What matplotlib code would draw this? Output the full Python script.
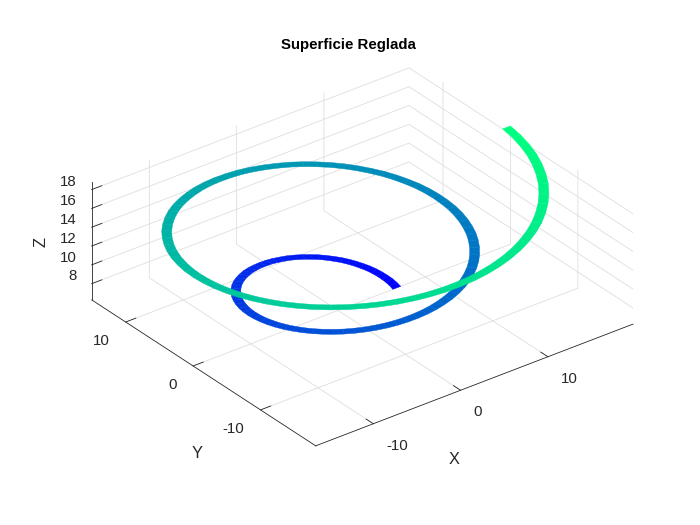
import numpy as np
import matplotlib
matplotlib.use('Agg')
import matplotlib.pyplot as plt
from mpl_toolkits.mplot3d import proj3d

# Ribbon in cylindrical form, one sample every 5 degrees
angle_deg = [360, 365, 370, 375, 380, 385, 390, 395, 400, 405, 410, 415, 420, 425, 430, 435, 440, 445,
             450, 455, 460, 465, 470, 475, 480, 485, 490, 495, 500, 505, 510, 515, 520, 525, 530, 535,
             540, 545, 550, 555, 560, 565, 570, 575, 580, 585, 590, 595, 600, 605, 610, 615, 620, 625,
             630, 635, 640, 645, 650, 655, 660, 665, 670, 675, 680, 685, 690, 695, 700, 705, 710, 715,
             720, 725, 730, 735, 740, 745, 750, 755, 760, 765, 770, 775, 780, 785, 790, 795, 800, 805,
             810, 815, 820, 825, 830, 835, 840, 845, 850, 855, 860, 865, 870, 875, 880, 885, 890, 895,
             900, 905, 910, 915, 920, 925, 930, 935, 940, 945, 950, 955, 960, 965, 970, 975, 980, 985,
             990, 995, 1000, 1005, 1010, 1015, 1020, 1025, 1030, 1035, 1040, 1045, 1050, 1055, 1060, 1065,
             1070, 1075, 1080]
radius = [6.28, 6.37, 6.46, 6.54, 6.63, 6.72, 6.81, 6.89, 6.98, 7.07, 7.16, 7.24, 7.33, 7.42, 7.50, 7.59, 7.68, 7.77,
          7.85, 7.94, 8.03, 8.11, 8.20, 8.29, 8.38, 8.46, 8.55, 8.64, 8.73, 8.81, 8.90, 8.99, 9.08, 9.16, 9.25, 9.34,
          9.42, 9.51, 9.60, 9.69, 9.77, 9.86, 9.95, 10.03, 10.12, 10.21, 10.30, 10.38, 10.47, 10.56, 10.65, 10.73, 10.82, 10.91,
          11.00, 11.08, 11.17, 11.26, 11.34, 11.43, 11.52, 11.61, 11.69, 11.78, 11.87, 11.95, 12.04, 12.13, 12.22, 12.30, 12.39, 12.48,
          12.57, 12.65, 12.74, 12.83, 12.92, 13.00, 13.09, 13.18, 13.26, 13.35, 13.44, 13.53, 13.61, 13.70, 13.79, 13.87, 13.96, 14.05,
          14.14, 14.22, 14.31, 14.40, 14.49, 14.57, 14.66, 14.75, 14.84, 14.92, 15.01, 15.10, 15.18, 15.27, 15.36, 15.45, 15.53, 15.62,
          15.71, 15.79, 15.88, 15.97, 16.06, 16.14, 16.23, 16.32, 16.41, 16.49, 16.58, 16.67, 16.76, 16.84, 16.93, 17.02, 17.10, 17.19,
          17.28, 17.37, 17.45, 17.54, 17.63, 17.71, 17.80, 17.89, 17.98, 18.06, 18.15, 18.24, 18.33, 18.41, 18.50, 18.59, 18.67, 18.76,
          18.85]
height = list(radius)
ribbon_width = 0.9

x_ticks = [-10, 0, 10]
y_ticks = [-10, 0, 10]
z_ticks = [8, 10, 12, 14, 16, 18]
x_tick_labels = ['-10', '0', '10']
y_tick_labels = ['-10', '0', '10']
z_tick_labels = ['8', '10', '12', '14', '16', '18']

plt.rcParams['font.family'] = ['Liberation Sans', 'DejaVu Sans']
plt.rcParams['grid.color'] = '#dedede'
plt.rcParams['grid.linewidth'] = 0.6
plt.rcParams['axes.edgecolor'] = '#262626'
plt.rcParams['axes.linewidth'] = 0.6
plt.rcParams['xtick.major.width'] = 0.6
plt.rcParams['ytick.major.width'] = 0.6
plt.rcParams['xtick.color'] = '#262626'
plt.rcParams['ytick.color'] = '#262626'

W, H = 700, 525
x_lim = (-16.6, 19.75)
y_lim = (-18.18, 15.04)
z_lim = (6.28, 18.85)

fig = plt.figure(figsize=(7, 5.25), dpi=100)
ax = fig.add_axes([83 / W, -7.2 / H, 544 / W, 544 / H], projection='3d', proj_type='ortho')
ax.view_init(elev=30, azim=-127.5)
ax.set_box_aspect((400, 368, 136.6))
ax.patch.set_alpha(0)

# Surface between the inner and the outer edge of the ribbon
theta = np.radians(angle_deg)
r = np.array(radius)
z = np.array(height)
X = np.vstack([r * np.cos(theta), (r + ribbon_width) * np.cos(theta)])
Y = np.vstack([r * np.sin(theta), (r + ribbon_width) * np.sin(theta)])
Z = np.vstack([z, z])
surf = ax.plot_surface(X, Y, Z, cmap='winter', vmin=6.28, vmax=18.85, rstride=1, cstride=1,
                       shade=False, linewidth=0.3, antialiased=True)
surf.set_edgecolor('face')

ax.set_xlim(*x_lim)
ax.set_ylim(*y_lim)
ax.set_zlim(*z_lim)
ax.set_xticks(x_ticks, labels=x_tick_labels, ha='left')
ax.set_yticks(y_ticks, labels=y_tick_labels, ha='right')
ax.set_zticks(z_ticks)
ax.tick_params(axis='x', labelsize=10.8, labelcolor='#262626', pad=3.5)
ax.tick_params(axis='y', labelsize=10.8, labelcolor='#262626', pad=2.5)
ax.zaxis.set_tick_params(label1On=False, label2On=False)

# mplot3d cannot shift z tick labels upward, so they are placed next to the ticks by hand
proj = ax.get_proj()
for value, label in zip(z_ticks, z_tick_labels):
    xp, yp, _ = proj3d.proj_transform(x_lim[0], y_lim[1], value, proj)
    ax.annotate(label, xy=(xp, yp), xytext=(-10.9, 5.2), textcoords='offset points', fontsize=10.8,
                color='#262626', ha='right', va='center', annotation_clip=False)

for axis in (ax.xaxis, ax.yaxis, ax.zaxis):
    axis.set_pane_color((1, 1, 1, 0))
    axis.pane.set_edgecolor('none')
    axis._axinfo['tick']['inward_factor'] = 0
    axis._axinfo['tick']['outward_factor'] = 0.4

# Axes3D.set_title multiplies y by 0.92
ax.set_title('Superficie Reglada', x=(348.5 - 83) / 544, y=(480 + 7.2) / 544 / 0.92, va='center',
             fontsize=10.8, fontweight='bold', color='black', pad=0)
fig.text(454 / W, 1 - 459 / H, 'X', fontsize=11.8, color='#262626', ha='center', va='center')
fig.text(197 / W, 1 - 454 / H, 'Y', fontsize=11.8, color='#262626', ha='center', va='center')
fig.text(41 / W, 1 - 242 / H, 'Z', fontsize=11.8, color='#262626', ha='center', va='center', rotation=90)

fig.savefig('out.png', dpi=100)
